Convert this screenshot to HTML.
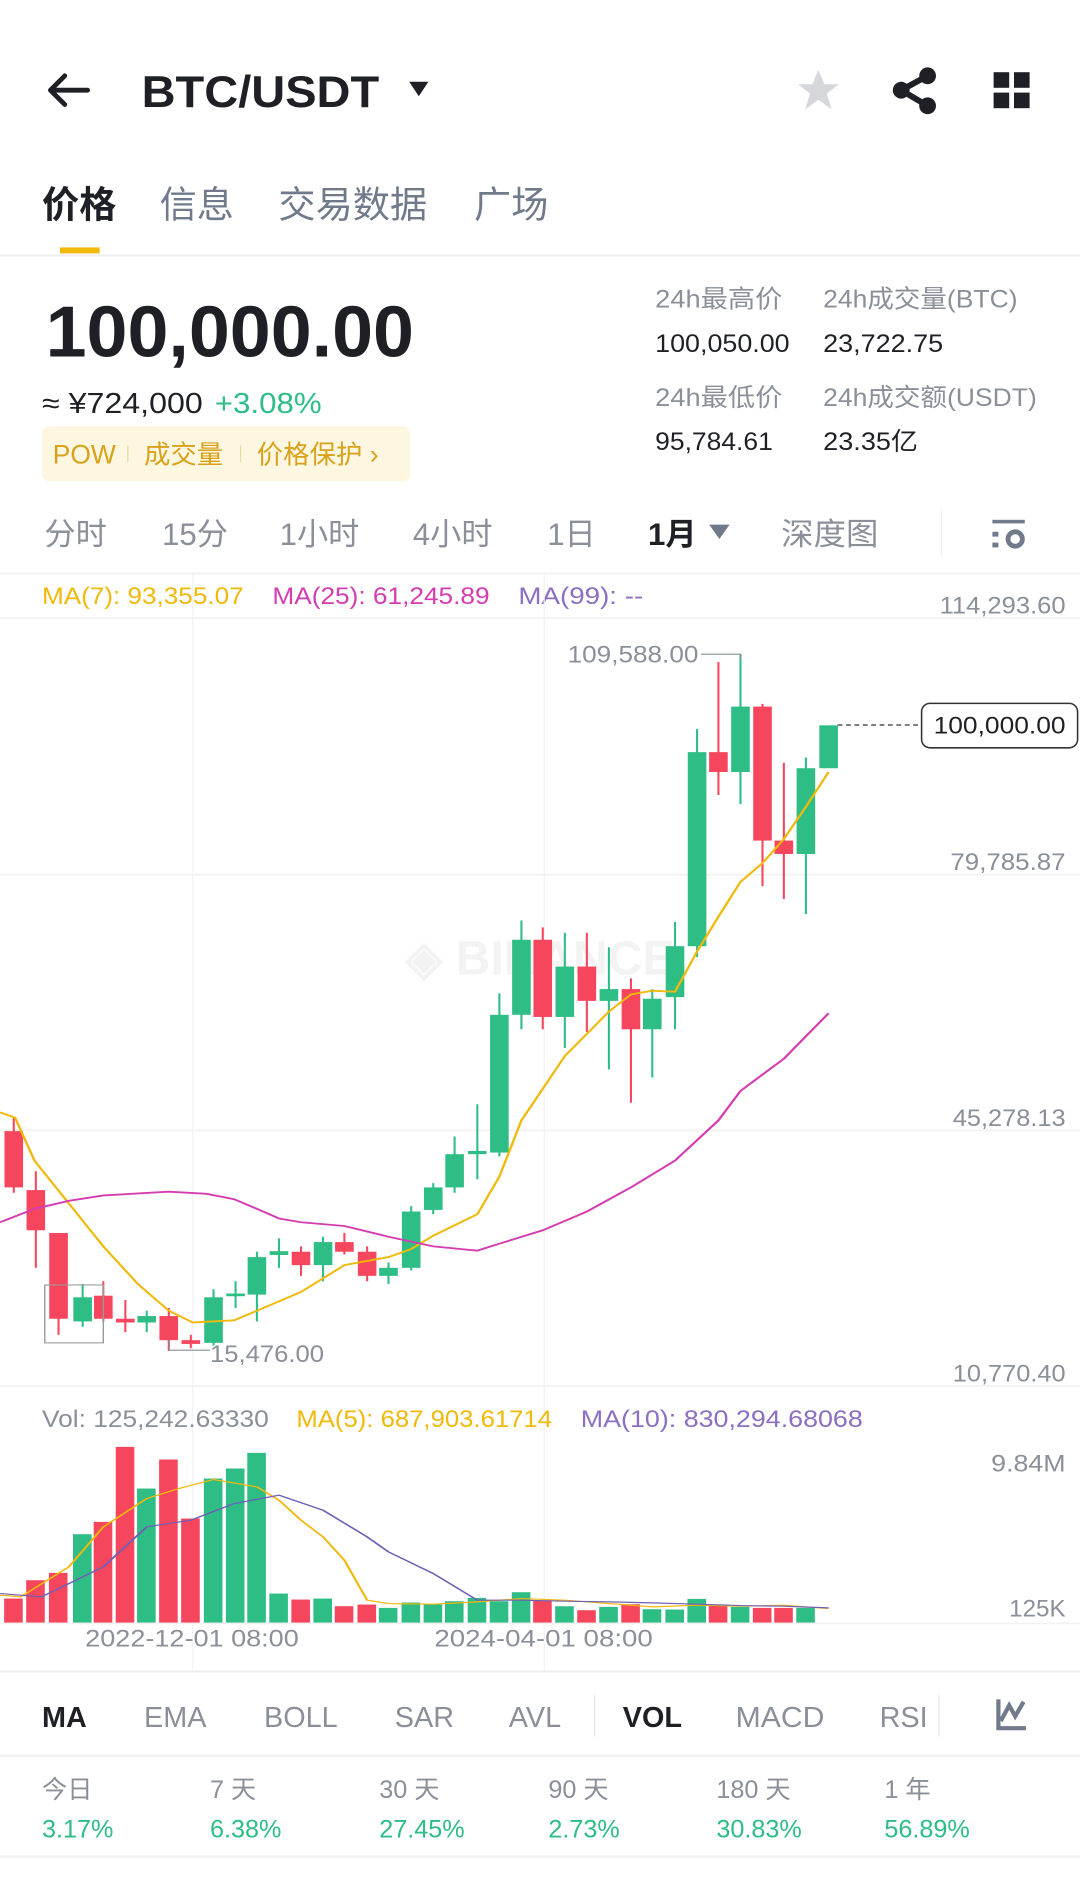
<!DOCTYPE html>
<html><head><meta charset="utf-8"><style>
html,body{margin:0;padding:0;background:#fff;width:1080px;height:1882px;overflow:hidden}
svg{display:block}
text{font-family:"Liberation Sans","Noto Sans CJK SC",sans-serif}
</style></head><body>
<svg width="1080" height="1882" viewBox="0 0 900 1568" xmlns="http://www.w3.org/2000/svg">
<rect width="900" height="1568" fill="#fff"/>
<g stroke="#1e2026" stroke-width="4" fill="none" stroke-linecap="round" stroke-linejoin="round">
<path d="M42 75 H73 M54 63 L42 75 L54 87"/>
</g>
<text x="118" y="89" font-size="37" font-weight="bold" fill="#1e2026" textLength="198" lengthAdjust="spacingAndGlyphs">BTC/USDT</text>
<path d="M341 68 H357 L349 80 Z" fill="#1e2026"/>
<path d="M682 58 L687 70 L699 70 L689 78 L693 91 L682 83 L671 91 L675 78 L665 70 L677 70 Z" fill="#d5d7da"/>
<g fill="#1e2026"><circle cx="773" cy="63" r="7"/><circle cx="751" cy="75" r="7"/><circle cx="773" cy="88" r="7"/></g>
<path d="M773 63 L751 75 L773 88" stroke="#1e2026" stroke-width="5" fill="none"/>
<g fill="#1e2026"><rect x="828" y="60" width="13" height="13"/><rect x="845" y="60" width="13" height="13"/><rect x="828" y="77" width="13" height="13"/><rect x="845" y="77" width="13" height="13"/></g>
<text x="35" y="181" font-size="31" font-weight="bold" fill="#1e2026">价格</text>
<text x="133" y="181" font-size="31" fill="#707a8a">信息</text>
<text x="232" y="181" font-size="31" fill="#707a8a">交易数据</text>
<text x="395" y="181" font-size="31" fill="#707a8a">广场</text>
<rect x="50" y="206" width="33" height="5" fill="#f0b90b"/>
<rect x="0" y="212" width="900" height="1.5" fill="#eeeeee"/>
<text x="38" y="297" font-size="60" font-weight="bold" fill="#1e2026" textLength="307" lengthAdjust="spacingAndGlyphs">100,000.00</text>
<text x="35" y="344" font-size="24" fill="#1e2026" textLength="134" lengthAdjust="spacingAndGlyphs">≈ ¥724,000</text>
<text x="179" y="344" font-size="24" fill="#2ebd85" textLength="89" lengthAdjust="spacingAndGlyphs">+3.08%</text>
<rect x="35" y="355" width="307" height="46" rx="6" fill="#fdf6e1"/>
<text x="44" y="386" font-size="22" fill="#d9a21b">POW</text>
<rect x="106" y="371" width="1" height="14" fill="#ecd9a0"/>
<text x="120" y="386" font-size="22" fill="#d9a21b">成交量</text>
<rect x="200" y="371" width="1" height="14" fill="#ecd9a0"/>
<text x="214" y="386" font-size="22" fill="#d9a21b">价格保护 ›</text>
<g font-size="21" fill="#8a8f99">
<text x="546" y="256" textLength="106" lengthAdjust="spacingAndGlyphs">24h最高价</text><text x="686" y="256" textLength="162" lengthAdjust="spacingAndGlyphs">24h成交量(BTC)</text>
<text x="546" y="338" textLength="106" lengthAdjust="spacingAndGlyphs">24h最低价</text><text x="686" y="338" textLength="178" lengthAdjust="spacingAndGlyphs">24h成交额(USDT)</text>
</g>
<g font-size="21" fill="#1e2026">
<text x="546" y="293" textLength="112" lengthAdjust="spacingAndGlyphs">100,050.00</text><text x="686" y="293" textLength="100" lengthAdjust="spacingAndGlyphs">23,722.75</text>
<text x="546" y="375" textLength="98" lengthAdjust="spacingAndGlyphs">95,784.61</text><text x="686" y="375" textLength="79" lengthAdjust="spacingAndGlyphs">23.35亿</text>
</g>
<g font-size="26" fill="#8a8f99">
<text x="37" y="454">分时</text><text x="135" y="454">15分</text><text x="233" y="454">1小时</text><text x="344" y="454">4小时</text><text x="456" y="454">1日</text><text x="651" y="454" textLength="81" lengthAdjust="spacingAndGlyphs">深度图</text>
</g>
<text x="540" y="454" font-size="26" font-weight="bold" fill="#1e2026">1月</text>
<path d="M591 437 H608 L599.5 449 Z" fill="#707a8a"/>
<rect x="784" y="425" width="1" height="38" fill="#eeeeee"/>
<g fill="#707a8a"><rect x="827" y="433" width="27" height="3"/><rect x="827" y="443" width="5" height="4"/><rect x="827" y="452" width="5" height="4"/><circle cx="846" cy="449" r="6" fill="none" stroke="#707a8a" stroke-width="4"/></g>
<rect x="0" y="477" width="900" height="1.5" fill="#f0f0f0"/>
<text x="35" y="503" font-size="20" fill="#f0b90b" textLength="168" lengthAdjust="spacingAndGlyphs">MA(7): 93,355.07</text>
<text x="227" y="503" font-size="20" fill="#d63cb0" textLength="181" lengthAdjust="spacingAndGlyphs">MA(25): 61,245.89</text>
<text x="432" y="503" font-size="20" fill="#8c6fc2" textLength="104" lengthAdjust="spacingAndGlyphs">MA(99): --</text>
<g fill="#f2f2f2"><rect x="0" y="514" width="900" height="1.5"/><rect x="0" y="728" width="900" height="1.5"/><rect x="0" y="941" width="900" height="1.5"/><rect x="0" y="1154" width="900" height="1.5"/><rect x="160" y="478" width="1" height="915"/><rect x="453" y="478" width="1" height="915"/></g>
<g font-size="20" fill="#8a8f99" text-anchor="end">
<text x="888" y="511" textLength="105" lengthAdjust="spacingAndGlyphs">114,293.60</text><text x="888" y="725" textLength="96" lengthAdjust="spacingAndGlyphs">79,785.87</text><text x="888" y="938" textLength="94" lengthAdjust="spacingAndGlyphs">45,278.13</text><text x="888" y="1151" textLength="94" lengthAdjust="spacingAndGlyphs">10,770.40</text>
</g>
<text x="450" y="812" font-size="40" font-weight="bold" fill="#f3f3f3" text-anchor="middle">◈ BINANCE</text>
<g transform="translate(0,466.7) scale(0.574,0.4467)">
<g fill="#f6465d">
<rect x="18.5" y="1040" width="3" height="140"/><rect x="6.5" y="1065" width="27" height="105"/>
<rect x="50.5" y="1140" width="3" height="180"/><rect x="38.5" y="1175" width="27" height="75"/>
<rect x="83.5" y="1255" width="3" height="190"/><rect x="71.5" y="1255" width="27" height="160"/>
<rect x="148.5" y="1345" width="3" height="75"/><rect x="136.5" y="1372" width="27" height="43"/>
<rect x="180.5" y="1380" width="3" height="60"/><rect x="168.5" y="1415" width="27" height="7"/>
<rect x="243.5" y="1395" width="3" height="80"/><rect x="231.5" y="1410" width="27" height="45"/>
<rect x="275.5" y="1445" width="3" height="25"/><rect x="263.5" y="1455" width="27" height="7"/>
<rect x="435.5" y="1280" width="3" height="55"/><rect x="423.5" y="1290" width="27" height="25"/>
<rect x="498.5" y="1255" width="3" height="40"/><rect x="486.5" y="1272" width="27" height="18"/>
<rect x="531.5" y="1280" width="3" height="65"/><rect x="519.5" y="1290" width="27" height="45"/>
<rect x="786.5" y="685" width="3" height="190"/><rect x="774.5" y="708" width="27" height="144"/>
<rect x="850.5" y="695" width="3" height="185"/><rect x="838.5" y="758" width="27" height="64"/>
<rect x="914.5" y="780" width="3" height="232"/><rect x="902.5" y="800" width="27" height="75"/>
<rect x="1041.5" y="190" width="3" height="248"/><rect x="1029.5" y="358" width="27" height="37"/>
<rect x="1105.5" y="268" width="3" height="340"/><rect x="1093.5" y="273" width="27" height="250"/>
<rect x="1136.5" y="378" width="3" height="254"/><rect x="1124.5" y="523" width="27" height="25"/>
</g>
<g fill="#2ebd85">
<rect x="118.5" y="1350" width="3" height="80"/><rect x="106.5" y="1375" width="27" height="45"/>
<rect x="211.5" y="1400" width="3" height="40"/><rect x="199.5" y="1410" width="27" height="12"/>
<rect x="308.5" y="1360" width="3" height="105"/><rect x="296.5" y="1375" width="27" height="85"/>
<rect x="340.5" y="1345" width="3" height="50"/><rect x="328.5" y="1368" width="27" height="5"/>
<rect x="371.5" y="1290" width="3" height="130"/><rect x="359.5" y="1300" width="27" height="70"/>
<rect x="403.5" y="1265" width="3" height="55"/><rect x="391.5" y="1289" width="27" height="7"/>
<rect x="467.5" y="1262" width="3" height="83"/><rect x="455.5" y="1272" width="27" height="43"/>
<rect x="562.5" y="1310" width="3" height="40"/><rect x="550.5" y="1320" width="27" height="15"/>
<rect x="595.5" y="1205" width="3" height="120"/><rect x="583.5" y="1215" width="27" height="105"/>
<rect x="627.5" y="1162" width="3" height="58"/><rect x="615.5" y="1170" width="27" height="42"/>
<rect x="658.5" y="1075" width="3" height="105"/><rect x="646.5" y="1108" width="27" height="62"/>
<rect x="691.5" y="1015" width="3" height="140"/><rect x="679.5" y="1102" width="27" height="6"/>
<rect x="723.5" y="808" width="3" height="304"/><rect x="711.5" y="848" width="27" height="257"/>
<rect x="755.5" y="672" width="3" height="203"/><rect x="743.5" y="708" width="27" height="140"/>
<rect x="818.5" y="695" width="3" height="215"/><rect x="806.5" y="758" width="27" height="94"/>
<rect x="882.5" y="722" width="3" height="228"/><rect x="870.5" y="800" width="27" height="22"/>
<rect x="945.5" y="800" width="3" height="165"/><rect x="933.5" y="818" width="27" height="57"/>
<rect x="978.5" y="675" width="3" height="200"/><rect x="966.5" y="720" width="27" height="95"/>
<rect x="1010.5" y="315" width="3" height="425"/><rect x="998.5" y="358" width="27" height="362"/>
<rect x="1073.5" y="175" width="3" height="280"/><rect x="1061.5" y="273" width="27" height="122"/>
<rect x="1168.5" y="368" width="3" height="292"/><rect x="1156.5" y="388" width="27" height="160"/>
<rect x="1189.5" y="308" width="27" height="80"/>
</g>
<polyline fill="none" stroke="#f0b90b" stroke-width="3.5" points="0,1030 22,1040 50,1120 100,1200 150,1280 200,1350 245,1400 280,1422 340,1418 373,1400 437,1365 500,1315 564,1300 597,1285 629,1260 693,1220 725,1150 757,1045 820,925 884,842 916,810 947,803 980,805 1012,730 1043,665 1075,600 1107,565 1138,520 1170,460 1203,395"/>
<polyline fill="none" stroke="#d63cb0" stroke-width="3.5" points="0,1235 50,1210 100,1195 150,1185 245,1178 300,1182 340,1192 373,1210 405,1228 437,1235 500,1242 564,1262 629,1280 693,1288 725,1275 788,1250 852,1215 916,1170 980,1120 1043,1045 1075,990 1138,930 1203,845"/>
<rect x="65" y="1352" width="85" height="108" fill="none" stroke="#999" stroke-width="2"/>
</g>
<text x="582" y="552" font-size="20" fill="#8a8f99" text-anchor="end" textLength="109" lengthAdjust="spacingAndGlyphs">109,588.00</text>
<path d="M584 545 H617 V550" stroke="#8a8f99" stroke-width="1" fill="none"/>
<text x="175" y="1135" font-size="20" fill="#8a8f99" textLength="95" lengthAdjust="spacingAndGlyphs">15,476.00</text>
<path d="M141 1116 V1125 H175" stroke="#8a8f99" stroke-width="1" fill="none"/>
<path d="M698 604 H768" stroke="#555" stroke-width="1.2" stroke-dasharray="4 3"/>
<rect x="768" y="586" width="130" height="37" rx="7" fill="#fff" stroke="#333" stroke-width="1.3"/>
<text x="833" y="611" font-size="20" fill="#1e2026" text-anchor="middle" textLength="110" lengthAdjust="spacingAndGlyphs">100,000.00</text>
<text x="35" y="1189" font-size="20" fill="#8a8f99" textLength="189" lengthAdjust="spacingAndGlyphs">Vol: 125,242.63330</text>
<text x="247" y="1189" font-size="20" fill="#f0b90b" textLength="213" lengthAdjust="spacingAndGlyphs">MA(5): 687,903.61714</text>
<text x="484" y="1189" font-size="20" fill="#8c6fc2" textLength="235" lengthAdjust="spacingAndGlyphs">MA(10): 830,294.68068</text>
<text x="888" y="1226" font-size="20" fill="#8a8f99" text-anchor="end" textLength="62" lengthAdjust="spacingAndGlyphs">9.84M</text>
<text x="888" y="1347" font-size="20" fill="#8a8f99" text-anchor="end" textLength="47" lengthAdjust="spacingAndGlyphs">125K</text>
<g transform="translate(0,1150) scale(0.574,0.2778)">
<g fill="#f6465d">
<rect x="6" y="655" width="27" height="73"/><rect x="38" y="600" width="27" height="128"/><rect x="71" y="578" width="27" height="150"/>
<rect x="136" y="425" width="27" height="303"/><rect x="168" y="200" width="27" height="528"/><rect x="231" y="238" width="27" height="490"/><rect x="263" y="415" width="27" height="313"/>
<rect x="423" y="658" width="27" height="70"/><rect x="486" y="678" width="27" height="50"/><rect x="519" y="673" width="27" height="55"/>
<rect x="774" y="660" width="27" height="68"/><rect x="838" y="690" width="27" height="38"/><rect x="902" y="672" width="27" height="56"/>
<rect x="1029" y="673" width="27" height="55"/><rect x="1093" y="683" width="27" height="45"/><rect x="1124" y="683" width="27" height="45"/>
</g>
<g fill="#2ebd85">
<rect x="106" y="462" width="27" height="266"/><rect x="199" y="325" width="27" height="403"/><rect x="296" y="295" width="27" height="433"/><rect x="328" y="265" width="27" height="463"/><rect x="359" y="218" width="27" height="510"/><rect x="391" y="640" width="27" height="88"/>
<rect x="455" y="655" width="27" height="73"/><rect x="550" y="683" width="27" height="45"/><rect x="583" y="667" width="27" height="61"/><rect x="615" y="672" width="27" height="56"/><rect x="646" y="663" width="27" height="65"/><rect x="679" y="653" width="27" height="75"/><rect x="711" y="663" width="27" height="65"/><rect x="743" y="636" width="27" height="92"/>
<rect x="806" y="678" width="27" height="50"/><rect x="870" y="680" width="27" height="48"/><rect x="933" y="687" width="27" height="41"/><rect x="966" y="688" width="27" height="40"/><rect x="998" y="656" width="27" height="72"/><rect x="1061" y="680" width="27" height="48"/><rect x="1156" y="683" width="27" height="45"/>
</g>
<polyline fill="none" stroke="#f0b90b" stroke-width="3.5" points="0,645 30,650 100,560 150,440 213,355 260,325 310,298 373,320 405,360 437,420 469,470 500,540 533,660 564,670 629,672 693,665 757,655 820,660 884,670 947,680 1012,675 1075,678 1138,675 1203,685"/>
<polyline fill="none" stroke="#6f5fb5" stroke-width="3.5" points="0,640 60,650 150,560 213,440 277,420 340,370 405,345 469,390 533,470 564,515 629,580 693,660 757,660 820,663 884,665 947,668 1012,672 1075,676 1138,678 1203,683"/>
</g>
<rect x="0" y="1352" width="900" height="1.5" fill="#f2f2f2"/>
<text x="160" y="1372" font-size="20" fill="#8a8f99" text-anchor="middle" textLength="178" lengthAdjust="spacingAndGlyphs">2022-12-01 08:00</text>
<text x="453" y="1372" font-size="20" fill="#8a8f99" text-anchor="middle" textLength="182" lengthAdjust="spacingAndGlyphs">2024-04-01 08:00</text>
<rect x="0" y="1392" width="900" height="1.5" fill="#eeeeee"/>
<g font-size="24" fill="#8a8f99">
<text x="120" y="1439">EMA</text><text x="220" y="1439">BOLL</text><text x="329" y="1439">SAR</text><text x="424" y="1439">AVL</text><text x="613" y="1439" textLength="74" lengthAdjust="spacingAndGlyphs">MACD</text><text x="733" y="1439">RSI</text>
</g>
<text x="35" y="1439" font-size="24" font-weight="bold" fill="#1e2026">MA</text>
<text x="519" y="1439" font-size="24" font-weight="bold" fill="#1e2026">VOL</text>
<rect x="495" y="1412" width="1" height="35" fill="#e6e6e6"/>
<rect x="782" y="1412" width="1" height="35" fill="#e6e6e6"/>
<path d="M832 1416 V1440 H855 M834 1434 L841 1421 L846 1430 L853 1418" stroke="#707a8a" stroke-width="3.5" fill="none"/>
<rect x="0" y="1462" width="900" height="2" fill="#f2f2f2"/>
<g font-size="21" fill="#8a8f99">
<text x="35" y="1498">今日</text><text x="175" y="1498">7 天</text><text x="316" y="1498">30 天</text><text x="457" y="1498">90 天</text><text x="597" y="1498">180 天</text><text x="737" y="1498">1 年</text>
</g>
<g font-size="21" fill="#2ebd85">
<text x="35" y="1531">3.17%</text><text x="175" y="1531">6.38%</text><text x="316" y="1531">27.45%</text><text x="457" y="1531">2.73%</text><text x="597" y="1531">30.83%</text><text x="737" y="1531">56.89%</text>
</g>
<rect x="0" y="1546" width="900" height="2" fill="#f2f2f2"/>
</svg>
</body></html>
